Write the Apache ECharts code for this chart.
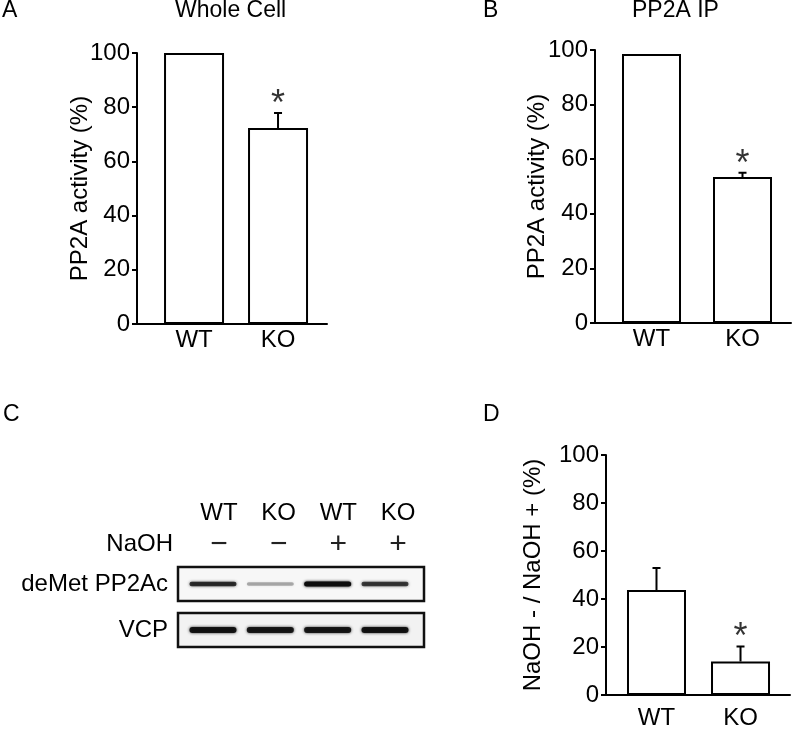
<!DOCTYPE html>
<html>
<head>
<meta charset="utf-8">
<script src="https://cdn.jsdelivr.net/npm/echarts@6/dist/echarts.min.js"></script>
<style>
html,body{margin:0;padding:0;background:#fff;}
#chart{width:798px;height:730px;}
</style>
</head>
<body>
<div id="chart"></div>
<script>
// ---- data ----
const categories = ['WT', 'KO'];
const wholeCellMean = [100, 72.3];
const wholeCellErr = [0, 5.6];
const ipMean = [98.5, 53.5];
const ipErr = [0, 1.5];
const ratioMean = [43.8, 14];
const ratioErr = [9.1, 6.2];
const significant = [false, true];
const laneGenotype = ['WT', 'KO', 'WT', 'KO'];
const laneNaOH = ['\u2212', '\u2212', '+', '+'];
const blotRows = ['deMet PP2Ac', 'VCP'];
const deMetIntensity = [0.78, 0.3, 1.0, 0.72];
const vcpIntensity = [0.92, 0.9, 0.9, 0.92];

// ---- helpers ----
const FONT = "'Liberation Sans', Arial, Helvetica, sans-serif";
const chart = echarts.init(document.getElementById('chart'), null, {renderer: 'canvas'});

function xValueAxis(gridIndex, min, max, margin) {
  return {
    gridIndex, type: 'value', min, max,
    axisLine: {show: true, onZero: false, lineStyle: {color: '#000', width: 2}},
    axisTick: {show: false}, splitLine: {show: false},
    axisLabel: {customValues: categories.map((c, i) => i), formatter: v => categories[Math.round(v)],
      fontSize: 24, color: '#000', margin, fontFamily: FONT}
  };
}
function yValueAxis(gridIndex, name, nameGap) {
  return {
    gridIndex, type: 'value', min: 0, max: 100, interval: 20,
    axisLine: {show: true, onZero: false, lineStyle: {color: '#000', width: 2}},
    axisTick: {show: true, length: 5, lineStyle: {color: '#000', width: 2}},
    splitLine: {show: false},
    axisLabel: {fontSize: 24, color: '#000', margin: 7, fontFamily: FONT},
    name, nameLocation: 'middle', nameGap, nameMoveOverlap: false,
    nameTextStyle: {fontSize: 24, color: '#000', fontFamily: FONT}
  };
}
function barSeries(axisIndex, mean, width) {
  return {
    type: 'bar', xAxisIndex: axisIndex, yAxisIndex: axisIndex, silent: true,
    barWidth: width, data: mean.map((v, i) => [i, v]),
    itemStyle: {color: '#fff', borderColor: '#000', borderWidth: 2}
  };
}
function errSeries(axisIndex, mean, err) {
  return {
    type: 'custom', xAxisIndex: axisIndex, yAxisIndex: axisIndex, silent: true, z: 5,
    dimensions: ['pos', 'mean', 'err'],
    encode: {x: 'pos', y: 'mean'},
    data: mean.map((v, i) => [i, v, err[i]]),
    renderItem: function (params, api) {
      const x = api.value('pos'), m = api.value('mean'), e = api.value('err');
      if (!(e > 0)) return null;
      const top = api.coord([x, m + e]);
      const base = api.coord([x, m]);
      return {
        type: 'polyline',
        shape: {points: [[base[0], base[1]], [top[0], top[1]], [top[0] - 4, top[1]], [top[0] + 4, top[1]]]},
        style: {stroke: '#000', lineWidth: 2, fill: null}
      };
    }
  };
}
function starSeries(axisIndex, mean, err) {
  return {
    type: 'scatter', xAxisIndex: axisIndex, yAxisIndex: axisIndex, silent: true, z: 6,
    symbolSize: 0,
    data: mean.map((v, i) => ({value: [i, v + err[i]], sig: significant[i]})).filter(d => d.sig).map(d => d.value),
    label: {show: true, position: 'top', distance: 0, formatter: '*', fontSize: 36, color: '#000', fontFamily: FONT, offset: [0, 10]}
  };
}
function bandSeries(xIdx, yIdx, intens, thick) {
  return {
    type: 'custom', xAxisIndex: xIdx, yAxisIndex: yIdx, silent: true, z: 5,
    data: intens.map((v, i) => [i, 0, v]),
    renderItem: function (params, api) {
      const c = api.coord([api.value(0), api.value(1)]);
      const a = api.value(2);
      const w = api.size([0.82, 0])[0];
      const h = thick * (0.6 + 0.4 * a);
      const col = 'rgba(12,12,12,' + a + ')';
      return {type: 'rect', shape: {x: c[0] - w / 2, y: c[1] - h / 2, width: w, height: h, r: h / 2},
        style: {fill: col, shadowBlur: 3, shadowColor: col}};
    }
  };
}

const option = {
  animation: false,
  backgroundColor: '#fff',
  textStyle: {fontFamily: FONT},
  grid: [
    {left: 137, top: 53, width: 190, height: 271},
    {left: 595, top: 50, width: 196, height: 273},
    {left: 606, top: 455, width: 184, height: 242},
    {left: 178, top: 567, width: 246, height: 34, show: true, borderColor: '#111', borderWidth: 2.5, backgroundColor: '#f7f7f7'},
    {left: 178, top: 613, width: 246, height: 34, show: true, borderColor: '#111', borderWidth: 2.5, backgroundColor: '#f2f2f2'}
  ],
  xAxis: [
    xValueAxis(0, -0.679, 1.583, 4),
    xValueAxis(1, -0.621, 1.533, 4),
    xValueAxis(2, -0.601, 1.589, 11),
    {gridIndex: 3, type: 'value', min: -0.61, max: 3.68, show: false},
    {gridIndex: 4, type: 'value', min: -0.61, max: 3.68, show: false},
    {gridIndex: 3, type: 'value', position: 'top', min: -0.687, max: 3.435,
      axisLine: {show: false}, axisTick: {show: false}, splitLine: {show: false},
      axisLabel: {customValues: [0, 1, 2, 3], margin: 6, color: '#000',
        formatter: v => '{g|' + laneGenotype[Math.round(v)] + '}\n{s|' + laneNaOH[Math.round(v)] + '}',
        rich: {g: {fontSize: 24, lineHeight: 32, fontFamily: FONT, color: '#000'},
               s: {fontSize: 30, lineHeight: 32, fontFamily: FONT, color: '#222'}}}}
  ],
  yAxis: [
    yValueAxis(0, 'PP2A activity (%)', 45),
    yValueAxis(1, 'PP2A activity (%)', 46),
    yValueAxis(2, 'NaOH - / NaOH + (%)', 61),
    {gridIndex: 3, type: 'category', data: [blotRows[0]], axisLine: {show: false}, axisTick: {show: false},
      axisLabel: {fontSize: 24, color: '#000', margin: 10, fontFamily: FONT}},
    {gridIndex: 4, type: 'category', data: [blotRows[1]], axisLine: {show: false}, axisTick: {show: false},
      axisLabel: {fontSize: 24, color: '#000', margin: 10, fontFamily: FONT}}
  ],
  series: [
    barSeries(0, wholeCellMean, 60),
    errSeries(0, wholeCellMean, wholeCellErr),
    starSeries(0, wholeCellMean, wholeCellErr),
    barSeries(1, ipMean, 59),
    errSeries(1, ipMean, ipErr),
    starSeries(1, ipMean, ipErr),
    barSeries(2, ratioMean, 59),
    errSeries(2, ratioMean, ratioErr),
    starSeries(2, ratioMean, ratioErr),
    bandSeries(3, 3, deMetIntensity, 5),
    bandSeries(4, 4, vcpIntensity, 6)
  ],
  graphic: [
    {type: 'text', x: 2, y: 11, style: {text: 'A', font: '23px ' + FONT, fill: '#000', textVerticalAlign: 'middle'}},
    {type: 'text', x: 175, y: 11, style: {text: 'Whole Cell', font: '23px ' + FONT, fill: '#000', textVerticalAlign: 'middle'}},
    {type: 'text', x: 483, y: 11, style: {text: 'B', font: '23px ' + FONT, fill: '#000', textVerticalAlign: 'middle'}},
    {type: 'text', x: 632, y: 11, style: {text: 'PP2A IP', font: '23px ' + FONT, fill: '#000', textVerticalAlign: 'middle'}},
    {type: 'text', x: 3, y: 415, style: {text: 'C', font: '23px ' + FONT, fill: '#000', textVerticalAlign: 'middle'}},
    {type: 'text', x: 483, y: 415, style: {text: 'D', font: '23px ' + FONT, fill: '#000', textVerticalAlign: 'middle'}},
    {type: 'text', x: 173, y: 544, style: {text: 'NaOH', font: '24px ' + FONT, fill: '#000', textAlign: 'right', textVerticalAlign: 'middle'}}
  ]
};
chart.setOption(option);
</script>
</body>
</html>
